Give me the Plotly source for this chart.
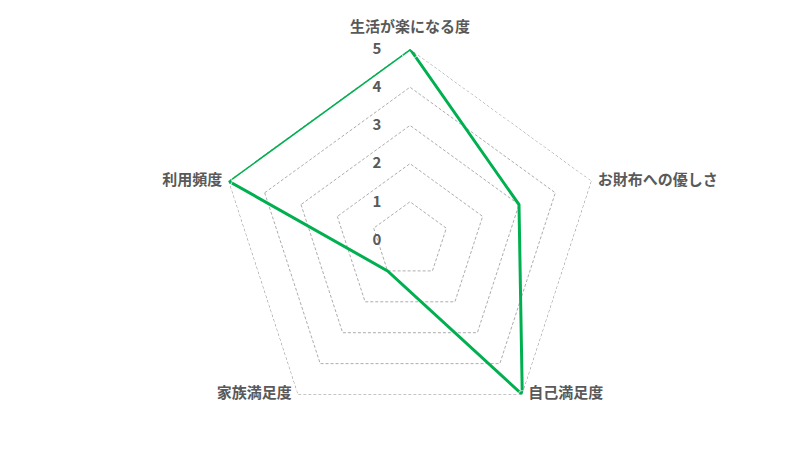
import plotly.graph_objects as go

categories = ["生活が楽になる度", "お財布への優しさ", "自己満足度", "家族満足度", "利用頻度"]
values = [5, 3, 5, 1, 5]
radial_ticks = [0, 1, 2, 3, 4, 5]
label_positions = ["top center", "middle right", "middle right", "middle left", "middle left"]

r_max = radial_ticks[-1]
grid_color = "#adadad"

fig = go.Figure()

# outer pentagon (plotly skips the grid line at the range edge)
fig.add_trace(
    go.Scatterpolar(
        r=[r_max] * (len(categories) + 1),
        theta=categories + categories[:1],
        mode="lines",
        line=dict(color="#8a8a8a", width=1, dash="3px,2px"),
        hoverinfo="skip",
        showlegend=False,
    )
)

fig.add_trace(
    go.Scatterpolar(
        r=values + values[:1],
        theta=categories + categories[:1],
        mode="lines",
        line=dict(color="#00B050", width=3),
        hoverinfo="skip",
        showlegend=False,
    )
)

# category names next to the outer corners
fig.add_trace(
    go.Scatterpolar(
        r=[r_max] * len(categories),
        theta=categories,
        mode="markers+text",
        text=categories,
        textposition=label_positions,
        textfont=dict(size=15, color="#595959", weight="bold"),
        marker=dict(size=[20, 8, 8, 8, 8], color="rgba(0,0,0,0)"),
        cliponaxis=False,
        hoverinfo="skip",
        showlegend=False,
    )
)

fig.update_layout(
    width=800,
    height=450,
    paper_bgcolor="white",
    plot_bgcolor="white",
    margin=dict(l=211, r=207, t=41, b=27),
    font=dict(family="Noto Sans CJK JP", color="#595959", size=14),
    polar=dict(
        bgcolor="white",
        gridshape="linear",
        angularaxis=dict(
            rotation=90,
            direction="clockwise",
            showgrid=False,
            showline=False,
            showticklabels=False,
            ticks="",
        ),
        radialaxis=dict(
            range=[0, r_max],
            tickvals=radial_ticks,
            angle=90,
            tickangle=90,
            side="counterclockwise",
            showline=False,
            ticks="outside",
            ticklen=23,
            tickcolor="rgba(0,0,0,0)",
            gridcolor=grid_color,
            griddash="3px,2px",
            gridwidth=1,
            tickfont=dict(size=15, color="#595959", weight="bold"),
        ),
    ),
)

fig.write_html("out.html")
